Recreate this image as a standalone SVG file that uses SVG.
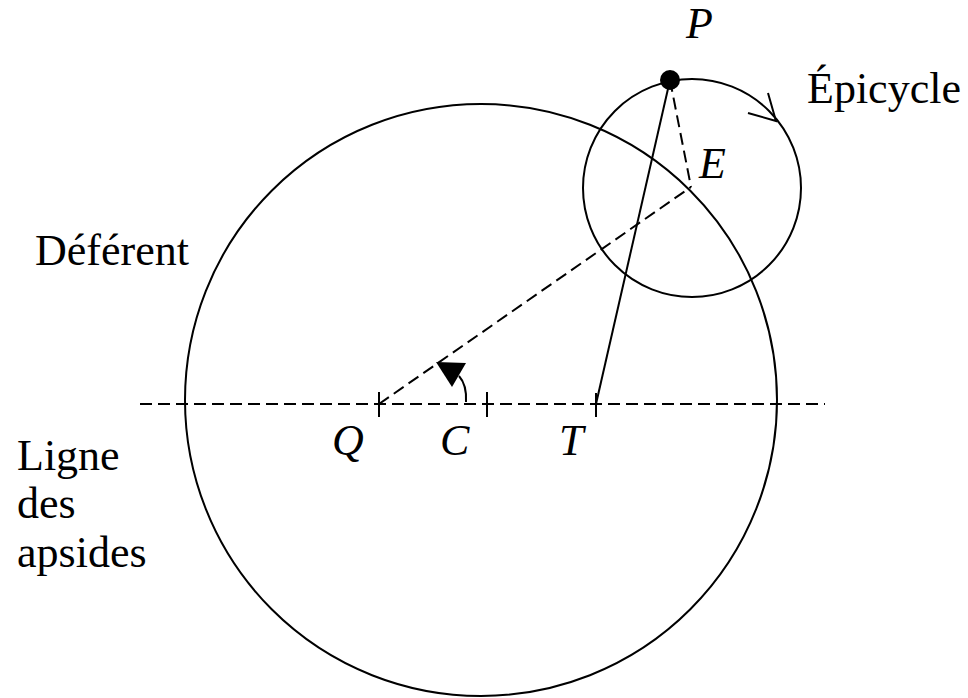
<svg xmlns="http://www.w3.org/2000/svg" width="968" height="698" viewBox="0 0 968 698">
<style>
.ln{fill:none;stroke:#000;stroke-width:2}
.dash{fill:none;stroke:#000;stroke-width:2;stroke-dasharray:12 6}
.t{font-family:"Liberation Serif","Times New Roman",serif;font-size:44px;fill:#000}
.i{font-family:"Liberation Serif","Times New Roman",serif;font-size:44px;font-style:italic;fill:#000}
</style>
<rect width="968" height="698" fill="#fff"/>
<g id="deferent"><circle class="ln" cx="481" cy="400" r="296"/></g>
<g id="epicycle"><circle class="ln" cx="692" cy="188" r="109"/></g>
<g id="connectors">
<line class="dash" x1="140" y1="404" x2="825" y2="404"/>
<line class="dash" x1="379" y1="404" x2="691" y2="187"/>
<line class="dash" x1="670" y1="80" x2="691" y2="187"/>
<line class="ln" x1="596" y1="404" x2="670" y2="80"/>
<line class="ln" x1="379" y1="392" x2="379" y2="417"/>
<line class="ln" x1="487" y1="392" x2="487" y2="417"/>
<line class="ln" x1="596" y1="393" x2="596" y2="417"/>
<path class="ln" d="M466 402 Q467 385 459 376"/>
<polygon points="436,362 466,363 452,387" fill="#000"/>
<path class="ln" d="M748 113 L776 121 L768 93"/>
</g>
<g id="P"><circle cx="670" cy="80" r="10" fill="#000"/><text class="i" x="686" y="38">P</text></g>
<g id="E"><text class="i" x="699" y="178">E</text></g>
<g id="Q"><text class="i" x="332" y="455">Q</text></g>
<g id="C"><text class="i" x="440" y="455">C</text></g>
<g id="T"><text class="i" x="559" y="455">T</text></g>
<g id="labels">
<text class="t" x="807" y="103">Épicycle</text>
<text class="t" x="35" y="265">Déférent</text>
<text class="t" x="17" y="470">Ligne</text>
<text class="t" x="17" y="518">des</text>
<text class="t" x="17" y="567">apsides</text>
</g>
</svg>
